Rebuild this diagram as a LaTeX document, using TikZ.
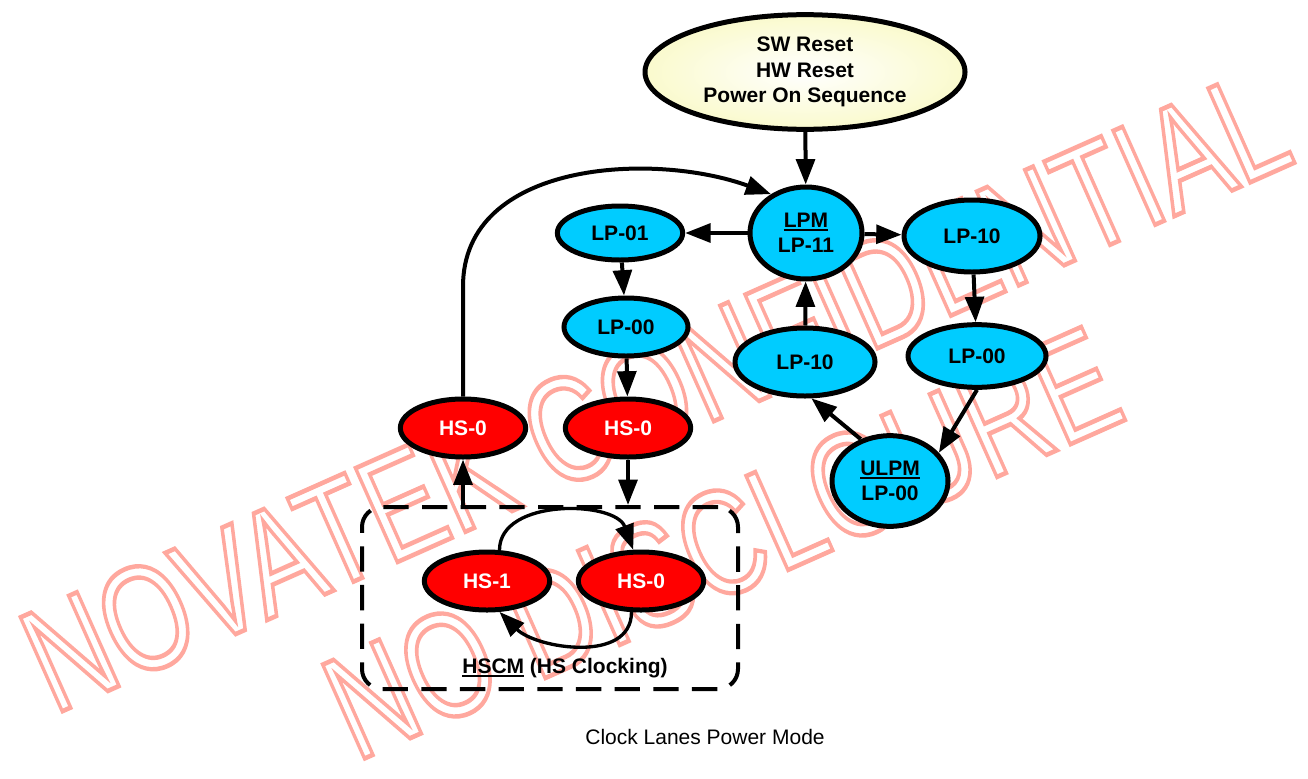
\documentclass[tikz,border=0pt]{standalone}
\usepackage{fontspec}
\setmainfont{Liberation Sans}
\usepackage{tikz}
\usetikzlibrary{arrows.meta,shapes.geometric,positioning}
\definecolor{lpblue}{RGB}{0,204,255}
\definecolor{hsred}{RGB}{255,0,0}
\definecolor{resetcream}{RGB}{250,250,205}
\definecolor{wmpink}{RGB}{255,168,158}
\newcommand{\nodefont}{\fontsize{15.75}{19}\selectfont\bfseries}
\newcommand{\modename}[1]{\setbox0\hbox{#1}\rlap{\rule[-2.6pt]{\wd0}{1.4pt}}\box0\relax}
\newcommand{\outlined}[1]{\special{pdf:literal direct 1 Tr 3.4 w 1 0.659 0.62 RG}#1\special{pdf:literal direct 0 Tr}}
\tikzstyle{lpstate} = [ellipse, draw=black, line width=3.75pt, fill=lpblue, inner sep=0pt, align=center, font=\nodefont]
\tikzstyle{hsstate} = [ellipse, draw=black, line width=3.75pt, fill=hsred, text=white, inner sep=0pt, minimum width=94pt, minimum height=43.5pt, font=\nodefont]
\tikzstyle{resetstate} = [ellipse, draw=black, line width=3.75pt, inner color=white, outer color=resetcream, align=center, font=\nodefont]
\tikzstyle{hsbox} = [rectangle, rounded corners=15pt, draw=black, line width=3pt, dash pattern=on 19pt off 10pt, minimum width=282pt, minimum height=136.5pt]
\tikzstyle{arrow} = [line width=3pt, -{Triangle[length=19pt,width=14pt]}]
\tikzstyle{hsloop} = [arrow, line width=2.5pt]
\tikzstyle{watermark} = [anchor=base, inner sep=0pt, text=wmpink, font=\fontsize{112}{120}\selectfont]

\begin{document}
\begin{tikzpicture}[x=0.75pt, y=-0.75pt]
\useasboundingbox (0,0) rectangle (1308,778);

\begin{scope}[shift={(676,438)}]
\node[watermark, rotate=24, xscale=0.745, transform shape] (wmtop) at (0,0) {\outlined{NOVATEK CONFIDENTIAL}};
\end{scope}
\begin{scope}[shift={(743,590)}]
\node[watermark, rotate=24, xscale=0.745, transform shape] (wmbottom) at (0,0) {\outlined{NO DISCLOURE}};
\end{scope}

\node (reset) [resetstate, minimum width=240pt, minimum height=86pt] at (805,72) {SW Reset\\HW Reset\\Power On Sequence};
\node (lpm) [lpstate, minimum width=84pt, minimum height=69pt] at (806,233) {\modename{LPM}\\LP-11};
\node (lp01) [lpstate, minimum width=94pt, minimum height=40.5pt] at (620,233) {LP-01};
\node (lp10r) [lpstate, minimum width=102pt, minimum height=54pt] at (972,236) {LP-10};
\node (lp00l) [lpstate, minimum width=93pt, minimum height=43.5pt] at (626,327) {LP-00};
\node (lp10m) [lpstate, minimum width=105pt, minimum height=51pt] at (805,362) {LP-10};
\node (lp00r) [lpstate, minimum width=103.5pt, minimum height=47pt] at (977,356) {LP-00};
\node (ulpm) [lpstate, minimum width=87pt, minimum height=68pt] at (890,481) {\modename{ULPM}\\LP-00};
\node (hsl) [hsstate] at (463,428) {HS-0};
\node (hsm) [hsstate] at (628,428) {HS-0};
\node (hscm) [hsbox] at (550,598) {};
\node (hs1) [hsstate] at (487,581) {HS-1};
\node (hs0i) [hsstate] at (641,581) {HS-0};
\node (hscmlabel) [font=\nodefont] at (565,668) {\modename{HSCM} (HS Clocking)};
\node (caption) [font=\fontsize{15.75}{19}\selectfont] at (705,737) {Clock Lanes Power Mode};

\draw[arrow] (reset) -- (lpm);
\draw[arrow] (lpm) -- (lp01);
\draw[arrow] (lpm) -- (lp10r);
\draw[arrow] (lp01) -- (lp00l);
\draw[arrow] (lp00l) -- (hsm);
\draw[arrow] (lp10r) -- (lp00r);
\draw[arrow] (lp00r.south) -- (ulpm.30);
\draw[arrow] (ulpm.125) -- (lp10m.-80);
\draw[arrow] (lp10m) -- (lpm);
\draw[arrow] (hsl.north) -- ++(0,-110) to[out=90,in=160] (lpm.132);
\draw[arrow] (hsl |- hscm.north) -- (hsl);
\draw[arrow] (hsm) -- (hsm |- hscm.north);
\draw[hsloop] (hs1.68) to[out=90,in=110] (hs0i.104);
\draw[hsloop] (hs0i.253) to[out=-90,in=-45] (hs1.292);
\end{tikzpicture}
\end{document}
